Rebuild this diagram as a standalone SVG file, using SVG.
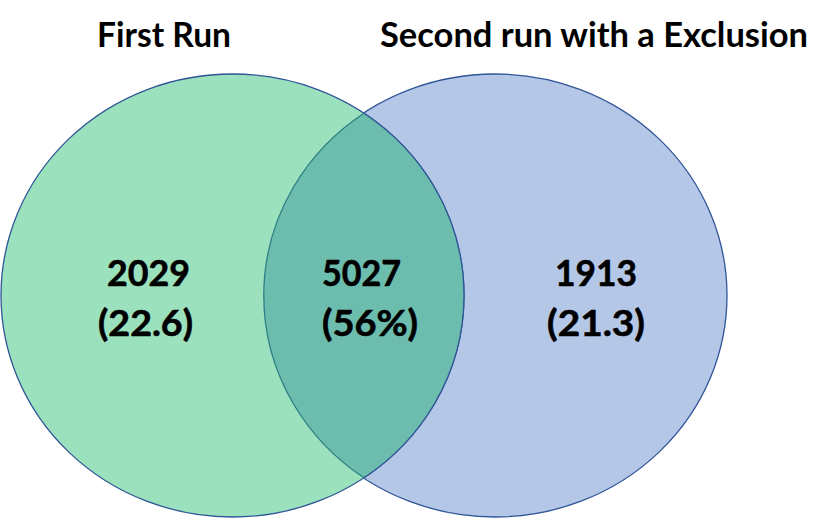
<svg xmlns="http://www.w3.org/2000/svg" width="832" height="518" viewBox="0 0 832 518">
<style>
.t{font-family:Lato,"Open Sans","Liberation Sans",sans-serif;font-weight:bold;fill:#000;text-anchor:middle}
.title{font-size:35px}
.num{font-size:37px;stroke:#000;stroke-width:0.6}
.edge{fill:none;stroke:#2F5597;stroke-width:1.3}
</style>
<rect width="832" height="518" fill="#fff"/>
<g id="right-set">
<ellipse cx="495" cy="295.5" rx="232" ry="221.5" fill="#B4C7E7" stroke="#2F5597" stroke-width="1.3"/>
</g>
<g id="left-set">
<ellipse cx="232.5" cy="295.5" rx="231.5" ry="221.5" fill="#9BE1BD" stroke="#2F5597" stroke-width="1.3"/>
</g>
<g id="overlap">
<path d="M364 113.2 A231.5 221.5 0 0 1 364 477.8 A232 221.5 0 0 1 364 113.2 Z" fill="#6CBDAD"/>
<path d="M364 113.2 A231.5 221.5 0 0 1 364 477.8" class="edge"/>
<path d="M364 477.8 A232 221.5 0 0 1 364 113.2" fill="none" stroke="#2E7F86" stroke-width="1.3"/>
</g>
<g id="labels-left">
<text class="t title" x="164" y="47" textLength="134" lengthAdjust="spacingAndGlyphs">First Run</text>
<text class="t num" x="148.5" y="286" textLength="83" lengthAdjust="spacingAndGlyphs">2029</text>
<text class="t num" x="145.5" y="336" textLength="95" lengthAdjust="spacingAndGlyphs">(22.6)</text>
</g>
<g id="labels-overlap">
<text class="t num" x="361.5" y="286" textLength="79" lengthAdjust="spacingAndGlyphs">5027</text>
<text class="t num" x="370" y="336" textLength="96" lengthAdjust="spacingAndGlyphs">(56%)</text>
</g>
<g id="labels-right">
<text class="t title" x="594" y="47" textLength="428" lengthAdjust="spacingAndGlyphs">Second run with a Exclusion</text>
<text class="t num" x="596" y="286" textLength="82" lengthAdjust="spacingAndGlyphs">1913</text>
<text class="t num" x="596" y="336" textLength="98" lengthAdjust="spacingAndGlyphs">(21.3)</text>
</g>
</svg>
